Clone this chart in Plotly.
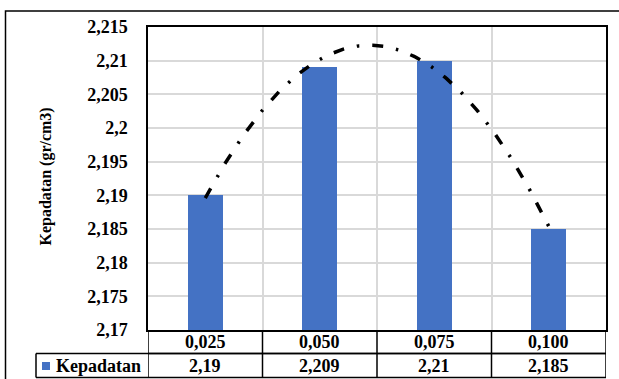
import numpy as np
import plotly.graph_objects as go

# Data
categories = ["0,025", "0,050", "0,075", "0,100"]
kepadatan = [2.19, 2.209, 2.21, 2.185]
y_ticks = [2.17, 2.175, 2.18, 2.185, 2.19, 2.195, 2.2, 2.205, 2.21, 2.215]
y_tick_labels = ["2,17", "2,175", "2,18", "2,185", "2,19", "2,195", "2,2", "2,205", "2,21", "2,215"]
series_name = "Kepadatan"
y_title = "Kepadatan (gr/cm3)"

W, H = 619, 379
ML, MR, MT, MB = 148, 13, 27, 49
PW, PH = W - ML - MR, H - MT - MB
FONT = "Times New Roman, Liberation Serif, DejaVu Serif, serif"
BLUE = "#4472C4"


def px_x(p):
    return (p - ML) / PW


def px_y(p):
    return (H - MB - p) / PH


def bold_font(size):
    return dict(size=size, family=FONT, color="black", weight="bold")


x_pos = np.arange(1, len(categories) + 1)

fig = go.Figure()

fig.add_trace(go.Bar(
    x=x_pos, y=kepadatan, width=0.306,
    marker=dict(color=BLUE, line=dict(width=0)),
    name=series_name, showlegend=False, hoverinfo="skip",
))

# Second order polynomial trendline through the bar values
coef = np.polyfit(x_pos, kepadatan, 2)
xs = np.linspace(x_pos[0], x_pos[-1], 200)
fig.add_trace(go.Scatter(
    x=xs, y=np.polyval(coef, xs), mode="lines",
    line=dict(color="black", width=3.5, dash="11px,13px,2.5px,13px"),
    showlegend=False, hoverinfo="skip",
))

n = len(categories)
shapes = []
line_style = dict(color="black", width=1.5)

# Data table grid under the plot
row1_bot = px_y(353.5)
row2_bot = px_y(377.5)
shapes.append(dict(type="line", xref="paper", yref="paper", x0=0, x1=1, y0=row1_bot, y1=row1_bot, line=line_style))
shapes.append(dict(type="line", xref="paper", yref="paper", x0=px_x(36), x1=1, y0=row1_bot, y1=row1_bot, line=line_style))
shapes.append(dict(type="line", xref="paper", yref="paper", x0=px_x(36), x1=1, y0=row2_bot, y1=row2_bot, line=line_style))
shapes.append(dict(type="line", xref="paper", yref="paper", x0=px_x(36), x1=px_x(36), y0=row1_bot, y1=row2_bot, line=line_style))
for k in range(n + 1):
    xb = 0.5 + k
    shapes.append(dict(type="line", xref="x", yref="paper", x0=xb, x1=xb, y0=0, y1=row2_bot, line=line_style))

# Legend key square in the table
shapes.append(dict(type="rect", xref="paper", yref="paper",
                   x0=px_x(42), x1=px_x(50), y0=px_y(370), y1=px_y(362),
                   fillcolor=BLUE, line=dict(width=0)))

# Outer chart frame
shapes.append(dict(type="rect", xref="paper", yref="paper",
                   x0=px_x(5.5), x1=px_x(660), y0=px_y(420), y1=px_y(11),
                   line=dict(color="black", width=1.5), fillcolor="rgba(0,0,0,0)", layer="below"))

annotations = []
row1_mid = px_y(342)
row2_mid = px_y(365.5)
for xv, cat, val in zip(x_pos, categories, kepadatan):
    annotations.append(dict(x=xv, y=row1_mid, xref="x", yref="paper", text=cat,
                            showarrow=False, xanchor="center", yanchor="middle", font=bold_font(18)))
    annotations.append(dict(x=xv, y=row2_mid, xref="x", yref="paper", text=str(val).replace(".", ","),
                            showarrow=False, xanchor="center", yanchor="middle", font=bold_font(18)))
annotations.append(dict(x=px_x(54), y=row2_mid, xref="paper", yref="paper", text=series_name,
                        showarrow=False, xanchor="left", yanchor="middle", font=bold_font(18)))
annotations.append(dict(x=px_x(45), y=px_y(176.5), xref="paper", yref="paper", text=y_title,
                        showarrow=False, textangle=-90, xanchor="center", yanchor="middle",
                        font=bold_font(16)))

fig.update_layout(
    width=W, height=H,
    margin=dict(l=ML, r=MR, t=MT, b=MB, pad=0),
    paper_bgcolor="white", plot_bgcolor="white",
    font=dict(family=FONT, color="black"),
    bargap=0,
    xaxis=dict(
        range=[0.5, n + 0.5], tickvals=[0.5 + k for k in range(n + 1)],
        showticklabels=False, ticks="", showgrid=True, gridcolor="#d9d9d9", gridwidth=1.5,
        showline=True, linecolor="black", linewidth=1.5, mirror=True, zeroline=False,
        fixedrange=True,
    ),
    yaxis=dict(
        range=[y_ticks[0], y_ticks[-1]], tickvals=y_ticks, ticktext=y_tick_labels,
        ticks="", ticklabelstandoff=15, showgrid=True, gridcolor="#d9d9d9", gridwidth=1.5,
        showline=True, linecolor="black", linewidth=1.5, mirror=True, zeroline=False,
        tickfont=bold_font(18),
        fixedrange=True,
    ),
    shapes=shapes,
    annotations=annotations,
    showlegend=False,
)

fig.write_html("out.html")
